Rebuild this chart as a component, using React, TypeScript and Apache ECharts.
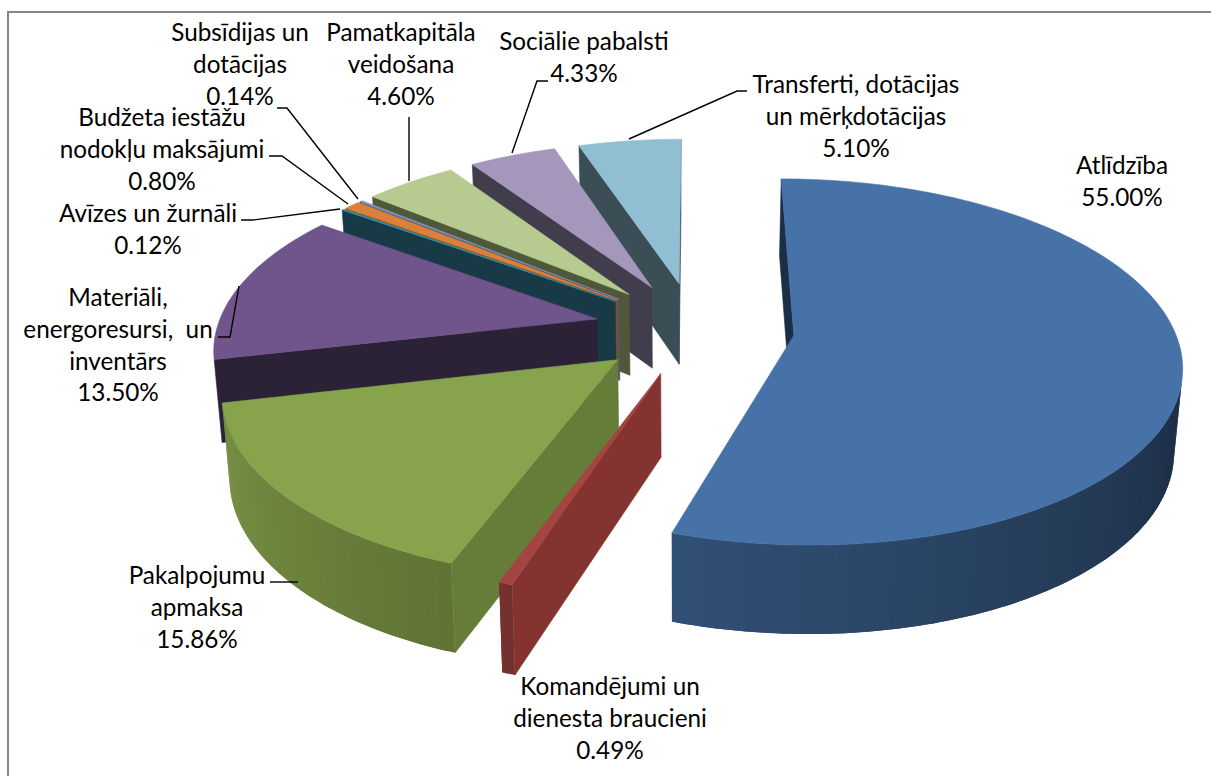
import React, { useEffect, useRef } from "react";
import * as echarts from "echarts";

const categories = [
  "Atlīdzība",
  "Komandējumi un\ndienesta braucieni",
  "Pakalpojumu\napmaksa",
  "Materiāli,\nenergoresursi,  un\ninventārs",
  "Avīzes un žurnāli",
  "Budžeta iestāžu\nnodokļu maksājumi",
  "Subsīdijas un\ndotācijas",
  "Pamatkapitāla\nveidošana",
  "Sociālie pabalsti",
  "Transferti, dotācijas\nun mērķdotācijas",
];
const values = [55.0, 0.49, 15.86, 13.5, 0.12, 0.8, 0.14, 4.6, 4.33, 5.1];

const topColors = ["#4672a8", "#a54542", "#87a34c", "#70558d", "#2f93ad", "#d9803a", "#7f93c0", "#b7cb90", "#a596bc", "#90bfd3"];
const cutColors = ["#1a2e48", "#843331", "#667d3a", "#2c2238", "#183a47", "#8a4f1f", "#4a5873", "#4f5839", "#423d4c", "#3b4e55"];
const litOuter = [1, 1, 1, 0, 0, 0, 0, 0, 0, 0];

// label centres: [x, y of first line]
const labelAnchors = [
  [1122, 165], [610, 686], [197, 575], [118, 297], [148, 213],
  [162, 117], [240, 32], [401, 32], [584, 41], [856, 84],
];
const leaders = [
  null, null,
  [[270, 582], [298, 582]],
  [[218, 337], [230, 337], [239, 286]],
  [[241, 220], [253, 220], [340, 209]],
  [[269, 156], [282, 156], [348, 204]],
  [[277, 108], [287, 108], [358, 199]],
  [[409, 117], [409, 181]],
  [[548, 81], [537, 81], [512, 153]],
  [[747, 91], [737, 91], [629, 139]],
];

// projection of the pie's disc
const CX = 694.5, CY = 328, P = 0.00038, K = 0.466, R = 380, EXPLODE = 100, H = 82;

const project = (X: number, Y: number, bottom: boolean) => {
  const f = 1 / (1 - P * Y);
  const sx = CX + X * f;
  const sy = CY + K * Y * f;
  if (!bottom) return [sx, sy];
  return [sx + (680 - sx) * 0.017, sy + H * Math.sqrt(f)];
};

const total = values.reduce((a, b) => a + b, 0);
const starts: number[] = [];
values.reduce((acc, v, i) => {
  starts[i] = acc;
  return acc + v;
}, 0);

const hexRgb = (h: string) => [1, 3, 5].map((i) => parseInt(h.slice(i, i + 2), 16));
const shade = (h: string, k: number) => {
  const [r, g, b] = hexRgb(h);
  return `rgb(${Math.round(r * k)},${Math.round(g * k)},${Math.round(b * k)})`;
};
const area = (pts: number[][]) => {
  let s = 0;
  pts.forEach((p, i) => {
    const q = pts[(i + 1) % pts.length];
    s += p[0] * q[1] - q[0] * p[1];
  });
  return s;
};
const poly = (points: number[][], fill: string, edge = true) => ({
  type: "polygon",
  shape: { points },
  style: edge ? { fill, stroke: fill, lineWidth: 0.6 } : { fill },
});

const renderSlice = (_: any, api: any) => {
  const i = api.value(0);
  const t0 = (starts[i] / total) * 2 * Math.PI;
  const t1 = ((starts[i] + values[i]) / total) * 2 * Math.PI;
  const mid = (t0 + t1) / 2;
  const ax = Math.sin(mid) * EXPLODE;
  const ay = -Math.cos(mid) * EXPLODE;
  const steps = Math.max(2, Math.ceil(((t1 - t0) * 180) / Math.PI));
  const rim: number[][] = [];
  for (let s = 0; s <= steps; s++) {
    const t = t0 + ((t1 - t0) * s) / steps;
    rim.push([ax + R * Math.sin(t), ay - R * Math.cos(t), t]);
  }
  const children: any[] = [];
  const apexT = project(ax, ay, false);
  const apexB = project(ax, ay, true);
  const first = rim[0];
  const last = rim[rim.length - 1];
  const startWall = [apexT, project(first[0], first[1], false), project(first[0], first[1], true), apexB];
  const endWall = [project(last[0], last[1], false), apexT, apexB, project(last[0], last[1], true)];
  if (area(startWall) < 0) children.push(poly(startWall, cutColors[i]));
  if (area(endWall) < 0) children.push(poly(endWall, cutColors[i]));
  // wall strips overlap their neighbour by one step, so no seams show; drawn from the far end of the arc
  for (let s = steps - 1; s >= 0; s--) {
    const a = rim[s];
    const b = rim[s + 1];
    const c = rim[Math.min(s + 2, steps)];
    const q = [project(a[0], a[1], false), project(b[0], b[1], false), project(b[0], b[1], true), project(a[0], a[1], true)];
    if (area(q) >= 0) continue;
    const strip = [
      project(a[0], a[1], false), project(b[0], b[1], false), project(c[0], c[1], false),
      project(c[0], c[1], true), project(b[0], b[1], true), project(a[0], a[1], true),
    ];
    const deg = (((a[2] + b[2]) / 2) * 180) / Math.PI;
    const k = Math.min(0.95, 0.36 + 0.0032 * (deg - 90));
    children.push(poly(strip, litOuter[i] ? shade(topColors[i], k) : cutColors[i], false));
  }
  const top = [apexT, ...rim.map((p) => project(p[0], p[1], false))];
  children.push(poly(top, topColors[i]));
  return { type: "group", children };
};

// back to front; the first slice stands apart and comes last
const drawOrder = values.map((_, i) => (values.length - i) % values.length);

const graphicLabels = categories.map((name, i) => ({
  type: "text",
  x: labelAnchors[i][0],
  y: labelAnchors[i][1] - 16,
  z: 10,
  style: {
    text: `${name}\n${values[i].toFixed(2)}%`,
    font: '24.3px Lato, sans-serif',
    lineHeight: 31.7,
    fill: "#000000",
    align: "center",
    verticalAlign: "top",
  },
}));
const graphicLeaders = leaders
  .filter((l) => l)
  .map((points) => ({
    type: "polyline",
    z: 10,
    shape: { points },
    style: { stroke: "#000000", lineWidth: 1.4, fill: "none" },
  }));
const frame = [
  { type: "line", z: 11, shape: { x1: 8, y1: 12, x2: 1211, y2: 12 }, style: { stroke: "#868686", lineWidth: 1.8 } },
  { type: "line", z: 11, shape: { x1: 8, y1: 11, x2: 8, y2: 776 }, style: { stroke: "#868686", lineWidth: 2 } },
];

export default function App() {
  const ref = useRef<HTMLDivElement>(null);
  useEffect(() => {
    document.body.style.margin = "0";
    const chart = echarts.init(ref.current!, undefined, { renderer: "svg" });
    chart.setOption({
      animation: false,
      backgroundColor: "#ffffff",
      graphic: [...frame, ...graphicLeaders, ...graphicLabels],
      series: [
        {
          type: "custom",
          coordinateSystem: "none",
          silent: true,
          renderItem: renderSlice,
          data: drawOrder.map((i) => [i]),
        },
      ],
    });
    return () => chart.dispose();
  }, []);
  return <div ref={ref} style={{ position: "fixed", left: 0, top: 0, width: 1211, height: 776 }} />;
}
